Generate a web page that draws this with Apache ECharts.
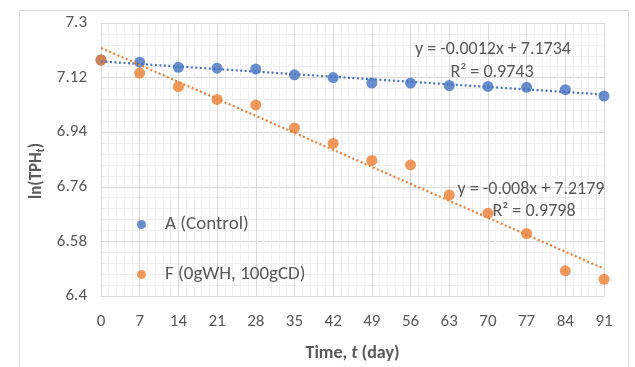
<!DOCTYPE html>
<html>
<head>
<meta charset="utf-8">
<script src="https://cdn.jsdelivr.net/npm/echarts@6/dist/echarts.min.js"></script>
<style>
html,body{margin:0;padding:0;background:#fff;}
#chart{width:635px;height:367px;}
</style>
</head>
<body>
<div id="chart"></div>
<script>
const days = [0, 7, 14, 21, 28, 35, 42, 49, 56, 63, 70, 77, 84, 91];
const seriesA = [7.178, 7.171, 7.154, 7.151, 7.148, 7.129, 7.120, 7.102, 7.102, 7.094, 7.091, 7.088, 7.080, 7.059];
const seriesF = [7.178, 7.135, 7.090, 7.048, 7.030, 6.954, 6.903, 6.847, 6.832, 6.733, 6.673, 6.606, 6.483, 6.455];
const trendA = [[0, 7.1734], [91, 7.0642]];
const trendF = [[0, 7.2179], [91, 6.4899]];
const nameA = 'A (Control)';
const nameF = 'F (0gWH, 100gCD)';
const eqA = ['y = -0.0012x + 7.1734', 'R² = 0.9743'];
const eqF = ['y = -0.008x + 7.2179', 'R² = 0.9798'];
const yTicks = [6.4, 6.58, 6.76, 6.94, 7.12, 7.3];
const yTitle = 'ln(TPH{s|t})';

const FONT = 'Carlito, Lato, sans-serif';
const TXT = '#595959';
const chart = echarts.init(document.getElementById('chart'));
const pair = (xs, ys) => xs.map((x, i) => [x, ys[i]]);
const eqText = (t, x, y) => ({
  type: 'text', x: x, y: y, z: 100,
  style: { text: t, fill: TXT, fontSize: 18, fontFamily: FONT, align: 'center', verticalAlign: 'middle' }
});

chart.setOption({
  animation: false,
  backgroundColor: '#fff',
  textStyle: { fontFamily: FONT },
  grid: { left: 101, right: 31, top: 23, bottom: 69, containLabel: false, show: false },
  legend: {
    orient: 'vertical', left: 132, top: 210, itemGap: 31,
    itemWidth: 9, itemHeight: 9, icon: 'circle',
    data: [nameA, nameF],
    textStyle: { color: TXT, fontSize: 19, fontFamily: FONT, padding: [0, 0, 0, 14] }
  },
  xAxis: {
    type: 'value', min: 0, max: 91, interval: 7,
    name: 'Time, {i|t} (day)', nameLocation: 'middle', nameGap: 48,
    nameTextStyle: {
      color: TXT, fontSize: 18, fontWeight: 'bold', fontFamily: FONT,
      rich: { i: { fontStyle: 'italic', fontWeight: 'bold', fontSize: 18, color: TXT, fontFamily: FONT } }
    },
    axisLine: { show: true, lineStyle: { color: '#d9d9d9' } },
    axisTick: { show: false },
    axisLabel: { color: TXT, fontSize: 17, margin: 17, fontFamily: FONT },
    splitLine: { show: true, lineStyle: { color: '#d9d9d9' } },
    minorTick: { show: false, splitNumber: 5 },
    minorSplitLine: { show: true, lineStyle: { color: '#f0f0f0' } }
  },
  yAxis: {
    type: 'value', min: yTicks[0], max: yTicks[yTicks.length - 1], interval: 0.18,
    axisLine: { show: true, lineStyle: { color: '#d9d9d9' } },
    axisTick: { show: false },
    axisLabel: { color: TXT, fontSize: 17, margin: 14, fontFamily: FONT,
      formatter: v => String(+v.toFixed(2)) },
    splitLine: { show: true, lineStyle: { color: '#d9d9d9' } },
    minorTick: { show: false, splitNumber: 5 },
    minorSplitLine: { show: true, lineStyle: { color: '#f0f0f0' } }
  },
  series: [
    { name: nameA, type: 'scatter', data: pair(days, seriesA), symbolSize: 11,
      itemStyle: { color: '#4472C4' }, z: 3 },
    { name: nameF, type: 'scatter', data: pair(days, seriesF), symbolSize: 11,
      itemStyle: { color: '#ED7D31' }, z: 3 },
    { name: 'trendA', type: 'line', data: trendA, showSymbol: false, symbol: 'none', silent: true,
      lineStyle: { color: '#4472C4', width: 2.2, type: [2, 2.5] }, z: 4 },
    { name: 'trendF', type: 'line', data: trendF, showSymbol: false, symbol: 'none', silent: true,
      lineStyle: { color: '#ED7D31', width: 2.2, type: [2, 2.5] }, z: 4 }
  ],
  graphic: [
    { type: 'rect', left: 17, top: 8, shape: { width: 609, height: 370 },
      style: { fill: 'none', stroke: '#d9d9d9', lineWidth: 1 }, silent: true, z: -10 },
    { type: 'text', x: 37, y: 171, rotation: Math.PI / 2, z: 100,
      style: { text: yTitle, fill: TXT, fontSize: 17, fontWeight: 'bold', fontFamily: FONT,
        align: 'center', verticalAlign: 'middle',
        rich: { s: { fontSize: 11, fontWeight: 'bold', fill: TXT, fontFamily: FONT, padding: [9, 0, 0, 0] } } } },
    eqText(eqA[0], 493, 49),
    eqText(eqA[1], 492, 72),
    eqText(eqF[0], 531, 189),
    eqText(eqF[1], 534, 211)
  ]
});
</script>
</body>
</html>
